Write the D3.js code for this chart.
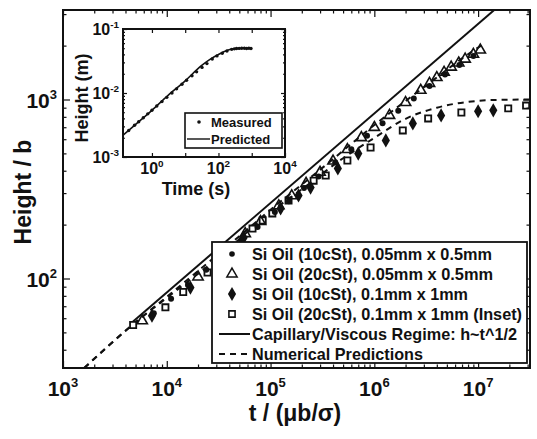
<!DOCTYPE html>
<html>
<head>
<meta charset="utf-8">
<script src="https://cdn.jsdelivr.net/npm/d3@7"></script>
<style>
  body { margin: 0; background: #fff; }
  text { font-family: "Liberation Sans", Arial, sans-serif; font-weight: bold; fill: #111; }
</style>
</head>
<body>
<svg id="chart" width="537" height="439"></svg>
<script>
// main plot data (t / (mu b / sigma), Height / b)
const dotT = [7.5e3, 1.1e4, 1.6e4, 2.4e4, 3.6e4, 5.2e4, 7.5e4, 1.1e5, 1.5e5, 2.1e5, 2.9e5, 4.2e5, 6e5, 8.5e5, 1.2e6, 1.7e6, 2.4e6, 3.4e6, 4.8e6, 6.6e6, 9e6];
const dotH = [64, 77, 92, 112, 136, 163, 194, 235, 270, 320, 371, 446, 527, 627, 736, 864, 1014, 1191, 1381, 1557, 1750];

const triT = [5.8e3, 2.0e4, 3.5e4, 5.7e4, 8e4, 1.2e5, 1.6e5, 2.2e5, 3e5, 4e5, 5.5e5, 7.5e5, 1e6, 1.4e6, 2e6, 2.8e6, 3.4e6, 4e6, 4.7e6, 5.5e6, 6.5e6, 7.5e6, 9e6, 1.05e7];
const triH = [58, 102, 139, 178, 208, 255, 290, 340, 392, 453, 525, 612, 698, 815, 962, 1125, 1230, 1326, 1420, 1516, 1600, 1680, 1790, 1890];

const diaT = [7.2e3, 1.69e4, 3.5e4, 5.5e4, 1.25e5, 1.86e5, 2.43e5, 4.45e5, 7.0e5, 1.29e6, 2.35e6, 4.4e6, 1.0e7, 1.4e7];
const diaH = [62, 89, 133, 169, 246, 291, 322, 412, 499, 591, 735, 815, 860, 870];

const sqT = [4.74e3, 9.7e3, 1.44e4, 2.47e4, 4.2e4, 6.7e4, 8.4e4, 1.04e5, 1.49e5, 2.6e5, 3.4e5, 5.5e5, 9.2e5, 1.88e6, 3.3e6, 6.9e6, 1.95e7, 2.9e7];
const sqH = [55, 69, 84, 108, 145, 190, 211, 231, 273, 352, 376, 456, 539, 672, 784, 846, 892, 925];

// capillary / viscous regime line (end points)
const capT = [4.5e3, 1.43e7];
const capH = [56, 3162];

// numerical predictions
const numT1 = [1.6e3, 5e3, 1e4, 3e4, 1e5, 3e5, 1e6, 3e6, 1e7, 1.15e7];
const numH1 = [31.6, 57, 79, 134, 242, 405, 720, 1170, 1950, 2050];
const numT2 = [1.6e3, 5e3, 1e4, 3e4, 1e5, 2e5, 5e5, 1e6, 2e6, 4e6, 8e6, 1.5e7, 3.2e7];
const numH2 = [31.6, 57, 78, 128, 235, 315, 470, 610, 780, 900, 970, 995, 1000];

// inset data (Time (s), Height (m))
const insMeasT = [0.2, 0.3, 0.4, 0.55, 0.75, 1, 1.4, 2, 2.8, 4, 5.5, 8, 11, 16, 22, 32, 45, 65, 90, 130, 180, 250, 300, 350, 420, 500, 600, 700, 820, 950];
const insMeasH = [2.6e-3, 3.13e-3, 3.56e-3, 4.1e-3, 4.72e-3, 5.37e-3, 6.25e-3, 7.34e-3, 8.55e-3, 1.0e-2, 1.16e-2, 1.37e-2, 1.58e-2, 1.86e-2, 2.14e-2, 2.51e-2, 2.88e-2, 3.39e-2, 3.8e-2, 4.17e-2, 4.52e-2, 4.81e-2, 4.9e-2, 4.95e-2, 4.98e-2, 5.0e-2, 5.0e-2, 4.95e-2, 5.0e-2, 4.97e-2];
const insPredT = [0.136, 0.3, 1, 3, 10, 30, 60, 100, 150, 220, 350, 600, 1000];
const insPredH = [2.2e-3, 3.13e-3, 5.37e-3, 9.1e-3, 1.55e-2, 2.65e-2, 3.45e-2, 4.0e-2, 4.45e-2, 4.8e-2, 4.95e-2, 5.0e-2, 5.0e-2];

const legendLabels = [
    "Si Oil (10cSt), 0.05mm x 0.5mm",
    "Si Oil (20cSt), 0.05mm x 0.5mm",
    "Si Oil (10cSt), 0.1mm x 1mm",
    "Si Oil (20cSt), 0.1mm x 1mm (Inset)",
    "Capillary/Viscous Regime: h~t^1/2",
    "Numerical Predictions"
];

const svg = d3.select("#chart");
const ink = "#111";

// main scales
const x = d3.scaleLog().domain([1e3, Math.pow(10, 7.5)]).range([63, 530]);
const y = d3.scaleLog().domain([Math.pow(10, 1.5), Math.pow(10, 3.5)]).range([368, 10]);

const logTicks = (lo, hi, from, to) => {
    const major = [], minor = [];
    for (let e = from; e <= to; e++) {
        for (let k = 1; k <= 9; k++) {
            const v = k * Math.pow(10, e);
            if (v < lo * 0.999 || v > hi * 1.001) continue;
            (k === 1 ? major : minor).push(v);
        }
    }
    return { major, minor };
};

const xt = logTicks(1e3, Math.pow(10, 7.5), 3, 7);
const yt = logTicks(Math.pow(10, 1.5), Math.pow(10, 3.5), 1, 3);

// draws ticks on all four sides, pointing inward
function frameTicks(g, xs, ys, xticks, yticks, big, small) {
    const [x0, x1] = xs.range();
    const [y0, y1] = ys.range();
    const sides = [
        [d3.axisBottom, xs, `translate(0,${y0})`, xticks],
        [d3.axisTop, xs, `translate(0,${y1})`, xticks],
        [d3.axisLeft, ys, `translate(${x0},0)`, yticks],
        [d3.axisRight, ys, `translate(${x1},0)`, yticks]
    ];
    sides.forEach(([ax, sc, tr, tk]) => {
        [[tk.major, big], [tk.minor, small]].forEach(([vals, len]) => {
            const a = g.append("g").attr("transform", tr)
                .call(ax(sc).tickValues(vals).tickSize(-len).tickFormat(""));
            a.select(".domain").remove();
            a.selectAll("line").attr("stroke", ink).attr("stroke-width", 1.2);
        });
    });
    g.append("rect")
        .attr("x", x0).attr("y", y1)
        .attr("width", x1 - x0).attr("height", y0 - y1)
        .attr("fill", "none").attr("stroke", ink).attr("stroke-width", 2);
}

function powLabel(g, px, py, exp, size, anchor) {
    const t = g.append("text")
        .attr("x", px).attr("y", py)
        .attr("text-anchor", anchor)
        .style("font-size", size + "px");
    t.append("tspan").text("10");
    t.append("tspan").attr("dy", -size * 0.42)
        .style("font-size", (size * 0.62) + "px").text(exp);
}

svg.append("defs").append("clipPath").attr("id", "mainClip")
    .append("rect").attr("x", 63).attr("y", 10).attr("width", 467).attr("height", 358);

const plot = svg.append("g").attr("clip-path", "url(#mainClip)");

const line = d3.line().x(d => x(d[0])).y(d => y(d[1]));

plot.append("path")
    .attr("d", line(capT.map((t, i) => [t, capH[i]])))
    .attr("fill", "none").attr("stroke", ink).attr("stroke-width", 2);

[[numT1, numH1], [numT2, numH2]].forEach(([ts, hs]) => {
    plot.append("path")
        .attr("d", line.curve(d3.curveMonotoneX)(ts.map((t, i) => [t, hs[i]])))
        .attr("fill", "none").attr("stroke", ink)
        .attr("stroke-width", 2).attr("stroke-dasharray", "6,5");
});

const sym = {
    tri: d3.symbol().type(d3.symbolTriangle).size(46)(),
    dia: d3.symbol().type(d3.symbolDiamond).size(58)(),
    sq: d3.symbol().type(d3.symbolSquare).size(38)()
};

plot.selectAll(".sq").data(sqT.map((t, i) => [t, sqH[i]])).enter()
    .append("path").attr("class", "sq").attr("d", sym.sq)
    .attr("transform", d => `translate(${x(d[0])},${y(d[1])})`)
    .attr("fill", "#fff").attr("stroke", ink).attr("stroke-width", 1.8);

plot.selectAll(".tri").data(triT.map((t, i) => [t, triH[i]])).enter()
    .append("path").attr("class", "tri").attr("d", sym.tri)
    .attr("transform", d => `translate(${x(d[0])},${y(d[1])})`)
    .attr("fill", "none").attr("stroke", ink).attr("stroke-width", 1.6);

plot.selectAll(".dia").data(diaT.map((t, i) => [t, diaH[i]])).enter()
    .append("path").attr("class", "dia").attr("d", sym.dia)
    .attr("transform", d => `translate(${x(d[0])},${y(d[1])})`)
    .attr("fill", ink);

plot.selectAll(".dot").data(dotT.map((t, i) => [t, dotH[i]])).enter()
    .append("circle").attr("class", "dot")
    .attr("cx", d => x(d[0])).attr("cy", d => y(d[1])).attr("r", 3)
    .attr("fill", ink);

frameTicks(svg.append("g"), x, y, xt, yt, 7, 3.5);

// main tick labels
xt.major.forEach(v => powLabel(svg, x(v), 396, Math.round(Math.log10(v)), 21, "middle"));
yt.major.forEach(v => powLabel(svg, 57, y(v) + 8, Math.round(Math.log10(v)), 21, "end"));

svg.append("text")
    .attr("transform", "translate(31,192) rotate(-90)")
    .attr("text-anchor", "middle").style("font-size", "23px")
    .text("Height / b");

svg.append("text")
    .attr("x", 295).attr("y", 421)
    .attr("text-anchor", "middle").style("font-size", "23px")
    .text("t / (\u03bcb/\u03c3)");

// main legend (text fitted to the widths seen in the figure)
const lg = svg.append("g");
lg.append("rect").attr("x", 212).attr("y", 242).attr("width", 315).attr("height", 121)
    .attr("fill", "#fff").attr("stroke", ink).attr("stroke-width", 1.8);
const fitW = [240, 241, 216, 270, 265, 171];
legendLabels.forEach((lab, i) => {
    const cy = 254 + i * 20;
    if (i === 0) lg.append("circle").attr("cx", 232).attr("cy", cy).attr("r", 2.8).attr("fill", ink);
    if (i === 1) lg.append("path").attr("d", sym.tri).attr("transform", `translate(232,${cy})`)
        .attr("fill", "none").attr("stroke", ink).attr("stroke-width", 1.5);
    if (i === 2) lg.append("path").attr("d", sym.dia).attr("transform", `translate(232,${cy})`).attr("fill", ink);
    if (i === 3) lg.append("path").attr("d", sym.sq).attr("transform", `translate(232,${cy})`)
        .attr("fill", "none").attr("stroke", ink).attr("stroke-width", 1.6);
    if (i === 4) lg.append("line").attr("x1", 219).attr("x2", 250).attr("y1", cy).attr("y2", cy)
        .attr("stroke", ink).attr("stroke-width", 2);
    if (i === 5) lg.append("line").attr("x1", 219).attr("x2", 250).attr("y1", cy).attr("y2", cy)
        .attr("stroke", ink).attr("stroke-width", 2).attr("stroke-dasharray", "6,5");
    lg.append("text").attr("x", 252).attr("y", cy + 6)
        .attr("textLength", fitW[i]).attr("lengthAdjust", "spacingAndGlyphs")
        .style("font-size", "17px").text(lab);
});

// inset
const ix = d3.scaleLog().domain([Math.pow(10, -0.87), 1e4]).range([123, 285]);
const iy = d3.scaleLog().domain([1e-3, 1e-1]).range([157, 29]);
const ixt = logTicks(Math.pow(10, -0.87), 1e4, -1, 4);
const iyt = logTicks(1e-3, 1e-1, -3, -1);
const ins = svg.append("g");
ins.append("rect").attr("x", 123).attr("y", 29).attr("width", 162).attr("height", 128).attr("fill", "#fff");

const iline = d3.line().x(d => ix(d[0])).y(d => iy(d[1])).curve(d3.curveMonotoneX);
ins.append("path")
    .attr("d", iline(insPredT.map((t, i) => [t, insPredH[i]])))
    .attr("fill", "none").attr("stroke", ink).attr("stroke-width", 1.6);
ins.selectAll(".m").data(insMeasT.map((t, i) => [t, insMeasH[i]])).enter()
    .append("circle").attr("class", "m")
    .attr("cx", d => ix(d[0])).attr("cy", d => iy(d[1])).attr("r", 1.7).attr("fill", ink);

frameTicks(ins.append("g"), ix, iy,
    { major: ixt.major.filter(v => v >= 1), minor: [] },
    { major: iyt.major, minor: iyt.minor }, 4, 2);

[0, 2, 4].forEach(e => powLabel(ins, ix(Math.pow(10, e)), 174, e, 16, "middle"));
[-1, -2, -3].forEach(e => powLabel(ins, 119, iy(Math.pow(10, e)) + 6, e, 16, "end"));

ins.append("text")
    .attr("transform", "translate(88,98) rotate(-90)")
    .attr("text-anchor", "middle").style("font-size", "18px")
    .text("Height (m)");
ins.append("text")
    .attr("x", 196).attr("y", 195)
    .attr("text-anchor", "middle").style("font-size", "18px")
    .text("Time (s)");

const il = ins.append("g");
il.append("rect").attr("x", 185).attr("y", 113).attr("width", 97).attr("height", 35)
    .attr("fill", "#fff").attr("stroke", ink).attr("stroke-width", 1.6);
il.append("circle").attr("cx", 199).attr("cy", 122).attr("r", 1.8).attr("fill", ink);
il.append("line").attr("x1", 187).attr("x2", 210).attr("y1", 139).attr("y2", 139)
    .attr("stroke", ink).attr("stroke-width", 1.4);
il.append("text").attr("x", 211).attr("y", 127).style("font-size", "13px").text("Measured");
il.append("text").attr("x", 211).attr("y", 144).style("font-size", "13px").text("Predicted");
</script>
</body>
</html>
